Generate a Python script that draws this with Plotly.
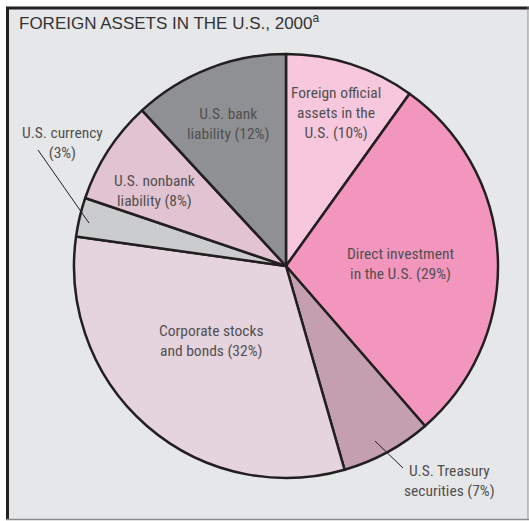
import plotly.graph_objects as go

W, H = 529, 521

labels = ["Foreign official assets in the U.S.", "Direct investment in the U.S.",
          "U.S. Treasury securities", "Corporate stocks and bonds",
          "U.S. currency", "U.S. nonbank liability", "U.S. bank liability"]
values = [10, 29, 7, 32, 3, 8, 12]
colors = ["#f7c8dd", "#f396be", "#c49fb0", "#e5d3de", "#cbcccd", "#e2c3d2", "#8f9093"]
label_texts = ["Foreign official<br>assets in the<br>U.S. (10%)",
               "Direct investment<br>in the U.S. (29%)",
               "U.S. Treasury<br>securities (7%)",
               "Corporate stocks<br>and bonds (32%)",
               "U.S. currency<br>(3%)",
               "U.S. nonbank<br>liability (8%)",
               "U.S. bank<br>liability (12%)"]
title_text = "FOREIGN ASSETS IN THE U.S., 2000<sup>a</sup>"

def px(x):
    return x / W

def py(y):
    return 1 - y / H

cx, cy, r = 286, 266, 212

fig = go.Figure(go.Pie(
    labels=labels, values=values, sort=False, direction="clockwise", rotation=0,
    marker=dict(colors=colors, line=dict(color="#231f20", width=2.5)),
    textinfo="none", hoverinfo="label+value", showlegend=False,
    domain=dict(x=[px(cx - r), px(cx + r)], y=[py(cy + r), py(cy - r)]),
))

label_font = dict(family="Liberation Sans Narrow, Arial Narrow, Roboto Condensed, DejaVu Sans Condensed, sans-serif",
                  size=15.5, color="#505050")
# (x center, y center of label block) in pixels
label_pos = [(336, 112.5), (400.5, 263.5), (449.5, 481), (210.5, 341), (62, 143), (154, 191), (228, 124.5)]
anns = []
for t, (x, y) in zip(label_texts, label_pos):
    anns.append(dict(text=t, x=px(x), y=py(y), xref="paper", yref="paper",
                     showarrow=False, xanchor="center", yanchor="middle",
                     align="center", font=label_font))
anns.append(dict(text=title_text, x=px(17), y=py(22), xref="paper", yref="paper",
                 showarrow=False, xanchor="left", yanchor="middle",
                 font=dict(family="Liberation Sans, Arial, sans-serif", size=17, color="#333333")))

shapes = [
    dict(type="rect", xref="paper", yref="paper", x0=px(6), x1=px(528), y0=py(520), y1=py(7),
         fillcolor="#e6e7e9", line=dict(width=0), layer="below"),
    dict(type="line", xref="paper", yref="paper", x0=px(6), x1=px(529), y0=py(8), y1=py(8),
         line=dict(color="#231f20", width=3), layer="below"),
    dict(type="line", xref="paper", yref="paper", x0=px(7.5), x1=px(7.5), y0=py(7), y1=py(520),
         line=dict(color="#231f20", width=3), layer="below"),
    dict(type="line", xref="paper", yref="paper", x0=px(6), x1=px(529), y0=py(519.5), y1=py(519.5),
         line=dict(color="#8a8a8a", width=1.5), layer="below"),
    dict(type="line", xref="paper", yref="paper", x0=px(528), x1=px(528), y0=py(7), y1=py(520),
         line=dict(color="#8a8a8a", width=1), layer="below"),
    # leader lines
    dict(type="line", xref="paper", yref="paper", x0=px(38), x1=px(89), y0=py(150), y1=py(223),
         line=dict(color="#231f20", width=1)),
    dict(type="line", xref="paper", yref="paper", x0=px(375), x1=px(403), y0=py(441), y1=py(468),
         line=dict(color="#231f20", width=1)),
]

fig.update_layout(width=W, height=H, margin=dict(l=0, r=0, t=0, b=0),
                  paper_bgcolor="white", plot_bgcolor="white",
                  annotations=anns, shapes=shapes)
fig.write_html("out.html", config={"displayModeBar": False},
               post_script="document.body.style.margin='0';")
